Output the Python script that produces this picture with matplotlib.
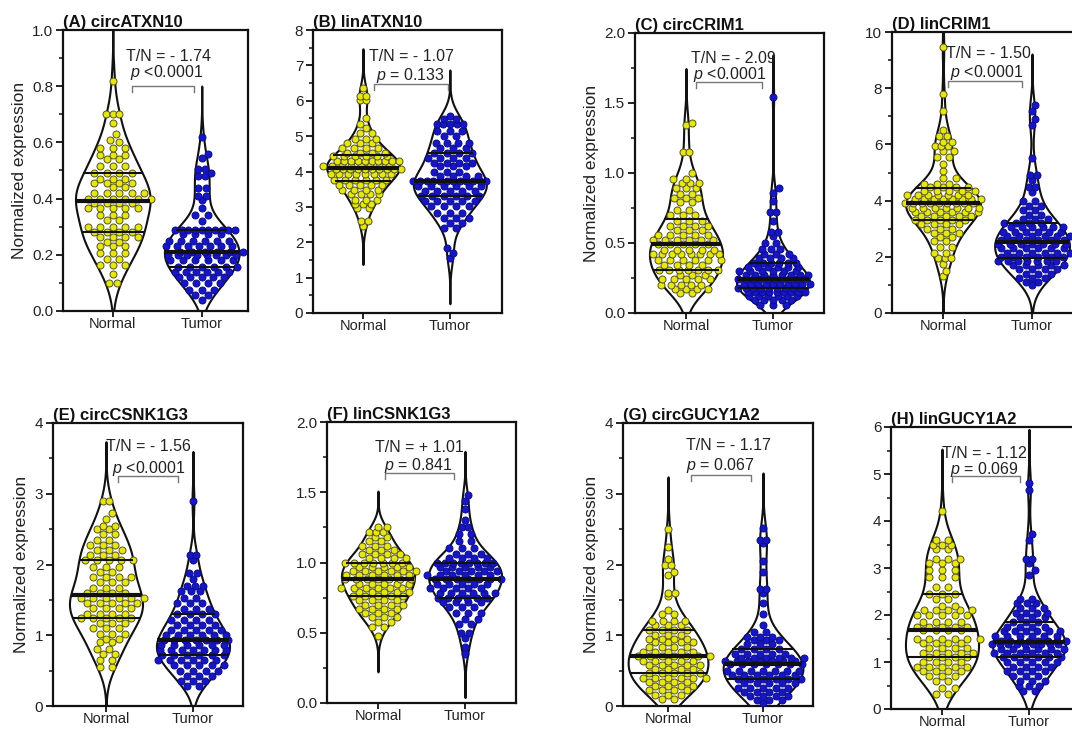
import numpy as np
import matplotlib
matplotlib.use("Agg")
import matplotlib.pyplot as plt
from matplotlib.ticker import MultipleLocator

plt.rcParams['font.family'] = ['Liberation Sans', 'DejaVu Sans']
plt.rcParams['mathtext.fontset'] = 'custom'
plt.rcParams['mathtext.it'] = 'Liberation Sans:italic'
plt.rcParams['mathtext.rm'] = 'Liberation Sans'

# ---------------- data (values read from the dot rows, with counts) ----------------
groups = ["Normal", "Tumor"]
titles = ["(A) circATXN10", "(B) linATXN10", "(C) circCRIM1", "(D) linCRIM1",
          "(E) circCSNK1G3", "(F) linCSNK1G3", "(G) circGUCY1A2", "(H) linGUCY1A2"]
fold_labels = ["T/N = - 1.74", "T/N = - 1.07", "T/N = - 2.09", "T/N = - 1.50",
               "T/N = - 1.56", "T/N = + 1.01", "T/N = - 1.17", "T/N = - 1.12"]
p_labels = [r"$p$ <0.0001", r"$p$ = 0.133", r"$p$ <0.0001", r"$p$ <0.0001",
            r"$p$ <0.0001", r"$p$ = 0.841", r"$p$ = 0.067", r"$p$ = 0.069"]

a_normal_vals = [0.82, 0.70, 0.67, 0.63, 0.61, 0.60, 0.58, 0.555, 0.54, 0.515, 0.49, 0.47, 0.455, 0.44, 0.42,
                 0.40, 0.385, 0.365, 0.34, 0.325, 0.30, 0.28, 0.265, 0.245, 0.23, 0.205, 0.185, 0.165, 0.13, 0.10]
a_normal_counts = [1, 3, 1, 1, 1, 1, 3, 3, 2, 3, 4, 3, 4, 2, 5, 6, 4, 5, 3, 2, 5, 4, 4, 2, 3, 3, 2, 3, 1, 2]
a_tumor_vals = [0.62, 0.56, 0.545, 0.505, 0.49, 0.48, 0.437, 0.41, 0.395, 0.365, 0.34, 0.32, 0.29, 0.275, 0.25,
                0.23, 0.21, 0.20, 0.18, 0.157, 0.14, 0.12, 0.098, 0.074, 0.056, 0.04]
a_tumor_counts = [1, 1, 1, 2, 1, 2, 2, 2, 1, 1, 2, 1, 10, 4, 6, 7, 6, 8, 6, 6, 6, 5, 4, 3, 2, 1]

b_normal_vals = [6.37, 6.13, 6.02, 5.5, 5.35, 5.24, 5.1, 4.92, 4.8, 4.67, 4.53, 4.43, 4.3, 4.15, 4.06, 3.92,
                 3.77, 3.63, 3.49, 3.35, 3.2, 3.07, 2.97, 2.6, 2.47]
b_normal_counts = [1, 2, 2, 1, 1, 1, 2, 3, 3, 4, 4, 6, 10, 8, 10, 8, 6, 5, 4, 4, 3, 3, 2, 2, 1]
b_tumor_vals = [5.57, 5.47, 5.33, 5.14, 5.0, 4.81, 4.67, 4.53, 4.39, 4.25, 4.15, 4.0, 3.87, 3.73, 3.58, 3.44,
                3.3, 3.16, 3.02, 2.83, 2.69, 2.55, 2.4, 1.84, 1.7, 1.56]
b_tumor_counts = [1, 2, 5, 3, 2, 4, 3, 4, 4, 4, 3, 3, 4, 12, 6, 5, 6, 5, 4, 3, 3, 2, 2, 1, 1, 1]

c_normal_vals = [1.36, 1.34, 1.15, 1.0, 0.96, 0.93, 0.89, 0.85, 0.82, 0.79, 0.735, 0.70, 0.66, 0.62, 0.59,
                 0.56, 0.52, 0.49, 0.45, 0.42, 0.38, 0.34, 0.31, 0.27, 0.24, 0.20, 0.17, 0.14]
c_normal_counts = [1, 1, 2, 1, 2, 3, 3, 2, 3, 2, 2, 3, 3, 4, 3, 5, 6, 5, 5, 8, 6, 4, 7, 3, 5, 5, 4, 2]
c_tumor_vals = [1.54, 0.89, 0.86, 0.80, 0.72, 0.66, 0.58, 0.55, 0.50, 0.46, 0.42, 0.39, 0.36, 0.33, 0.30,
                0.27, 0.24, 0.21, 0.18, 0.15, 0.12, 0.09, 0.06]
c_tumor_counts = [1, 1, 1, 1, 2, 1, 2, 1, 2, 3, 3, 4, 6, 6, 6, 8, 10, 10, 9, 9, 6, 5, 3]

d_normal_vals = [9.45, 7.8, 7.2, 6.5, 6.3, 6.1, 5.95, 5.75, 5.55, 5.3, 5.05, 4.8, 4.6, 4.5, 4.35, 4.2, 4.05,
                 3.9, 3.75, 3.6, 3.45, 3.3, 3.15, 3.0, 2.85, 2.7, 2.55, 2.35, 2.15, 1.95, 1.75, 1.5, 1.3]
d_normal_counts = [1, 1, 1, 1, 2, 2, 3, 2, 2, 1, 1, 2, 3, 4, 5, 7, 8, 9, 7, 6, 5, 5, 4, 3, 3, 2, 2, 2, 2, 3,
                   1, 1, 1]
d_tumor_vals = [7.4, 7.2, 6.9, 6.7, 5.5, 4.9, 4.75, 4.5, 4.3, 4.0, 3.8, 3.65, 3.5, 3.35, 3.2, 3.05, 2.9,
                2.75, 2.6, 2.45, 2.3, 2.15, 2.0, 1.85, 1.7, 1.55, 1.4, 1.25, 1.1, 1.0]
d_tumor_counts = [1, 1, 1, 1, 1, 2, 1, 2, 1, 2, 2, 2, 2, 3, 4, 6, 6, 6, 6, 7, 6, 6, 6, 7, 5, 4, 3, 3, 2, 1]

e_normal_vals = [2.9, 2.73, 2.65, 2.55, 2.5, 2.43, 2.35, 2.28, 2.2, 2.13, 2.06, 1.97, 1.9, 1.83, 1.75, 1.67,
                 1.6, 1.53, 1.45, 1.38, 1.3, 1.25, 1.18, 1.1, 1.02, 0.95, 0.9, 0.8, 0.74, 0.65, 0.55]
e_normal_counts = [2, 1, 1, 2, 2, 2, 2, 3, 3, 3, 5, 3, 2, 4, 3, 3, 4, 6, 5, 4, 4, 5, 3, 3, 3, 2, 2, 2, 2, 2, 2]
e_tumor_vals = [2.9, 2.13, 2.07, 1.88, 1.8, 1.7, 1.62, 1.53, 1.45, 1.37, 1.3, 1.22, 1.15, 1.08, 1.0, 0.93,
                0.86, 0.79, 0.72, 0.65, 0.58, 0.5, 0.42, 0.35, 0.28]
e_tumor_counts = [1, 2, 1, 2, 1, 3, 3, 2, 3, 3, 4, 4, 4, 5, 6, 7, 6, 7, 6, 6, 5, 4, 3, 3, 2]

f_normal_vals = [1.25, 1.22, 1.18, 1.15, 1.12, 1.09, 1.06, 1.03, 1.0, 0.97, 0.94, 0.91, 0.88, 0.85, 0.82,
                 0.79, 0.76, 0.73, 0.7, 0.67, 0.64, 0.61, 0.58, 0.54, 0.48]
f_normal_counts = [2, 3, 2, 2, 3, 3, 4, 4, 7, 5, 6, 6, 7, 5, 6, 5, 5, 4, 4, 4, 3, 3, 2, 2, 1]
f_tumor_vals = [1.48, 1.44, 1.38, 1.3, 1.25, 1.2, 1.15, 1.1, 1.06, 1.03, 1.0, 0.97, 0.94, 0.91, 0.88, 0.85,
                0.82, 0.78, 0.75, 0.72, 0.68, 0.64, 0.6, 0.56, 0.5, 0.46, 0.4, 0.35]
f_tumor_counts = [1, 1, 1, 1, 2, 2, 2, 3, 3, 4, 8, 5, 5, 6, 7, 5, 5, 6, 6, 4, 3, 3, 2, 2, 2, 1, 1, 1]

g_normal_vals = [2.5, 2.25, 2.08, 2.0, 1.9, 1.85, 1.6, 1.55, 1.35, 1.3, 1.2, 1.14, 1.07, 1.0, 0.95, 0.9,
                 0.83, 0.77, 0.7, 0.64, 0.58, 0.52, 0.46, 0.4, 0.34, 0.28, 0.22, 0.16, 0.1]
g_normal_counts = [1, 1, 1, 2, 1, 1, 2, 1, 1, 2, 4, 3, 4, 3, 4, 4, 4, 5, 7, 5, 5, 4, 5, 6, 4, 4, 4, 3, 2]
g_tumor_vals = [2.52, 2.35, 2.3, 2.05, 1.9, 1.65, 1.6, 1.45, 1.3, 1.15, 1.05, 0.98, 0.93, 0.87, 0.8, 0.74,
                0.68, 0.63, 0.59, 0.5, 0.44, 0.38, 0.32, 0.26, 0.2, 0.14, 0.08, 0.04]
g_tumor_counts = [1, 2, 1, 1, 1, 2, 1, 1, 1, 1, 2, 3, 3, 3, 4, 5, 6, 7, 7, 7, 6, 6, 5, 5, 4, 4, 3, 1]

h_normal_vals = [4.22, 3.6, 3.5, 3.4, 3.2, 3.1, 2.95, 2.8, 2.6, 2.45, 2.35, 2.2, 2.1, 2.0, 1.85, 1.75, 1.68,
                 1.5, 1.4, 1.3, 1.2, 1.1, 1.0, 0.9, 0.8, 0.7, 0.6, 0.45, 0.32]
h_normal_counts = [1, 2, 3, 2, 3, 3, 3, 3, 2, 3, 2, 2, 5, 5, 4, 5, 4, 6, 4, 4, 5, 4, 4, 5, 4, 3, 2, 2, 2]
h_tumor_vals = [4.8, 4.65, 3.72, 3.6, 3.2, 3.1, 2.95, 2.85, 2.35, 2.25, 2.15, 2.05, 1.95, 1.85, 1.75, 1.65,
                1.55, 1.45, 1.38, 1.28, 1.2, 1.1, 1.0, 0.9, 0.8, 0.7, 0.6, 0.5, 0.38]
h_tumor_counts = [1, 1, 1, 1, 2, 1, 1, 1, 2, 3, 3, 4, 3, 3, 4, 6, 6, 8, 9, 6, 6, 6, 5, 4, 4, 3, 3, 3, 2]

panel_data = [
    ((a_normal_vals, a_normal_counts), (a_tumor_vals, a_tumor_counts)),
    ((b_normal_vals, b_normal_counts), (b_tumor_vals, b_tumor_counts)),
    ((c_normal_vals, c_normal_counts), (c_tumor_vals, c_tumor_counts)),
    ((d_normal_vals, d_normal_counts), (d_tumor_vals, d_tumor_counts)),
    ((e_normal_vals, e_normal_counts), (e_tumor_vals, e_tumor_counts)),
    ((f_normal_vals, f_normal_counts), (f_tumor_vals, f_tumor_counts)),
    ((g_normal_vals, g_normal_counts), (g_tumor_vals, g_tumor_counts)),
    ((h_normal_vals, h_normal_counts), (h_tumor_vals, h_tumor_counts)),
]

# ---------------- layout / style ----------------
W, H = 1072, 729
# axes boxes in pixels: left, right, top, bottom
boxes = [(63, 248, 30, 311), (313, 502, 30, 313), (635, 824, 33, 313), (892, 1081, 32, 313),
         (53, 243, 423, 706), (327, 516, 422, 703), (623, 813, 423, 706), (891, 1080, 427, 709)]
xlims = [(-0.56, 1.52), (-0.575, 1.6), (-0.586, 1.586), (-0.573, 1.55),
         (-0.609, 1.575), (-0.586, 1.586), (-0.474, 1.526), (-0.586, 1.586)]
ylims = [(0, 1.0), (0, 8), (0, 2.0), (0, 10), (0, 4), (0, 2.0), (0, 4), (0, 6)]
major_steps = [0.2, 1, 0.5, 2, 1, 0.5, 1, 1]
minor_steps = [0.1, 0.5, 0.25, 1, 0.5, 0.25, 0.5, 0.5]
tick_fmt = ["{:.1f}", "{:.0f}", "{:.1f}", "{:.0f}", "{:.0f}", "{:.1f}", "{:.0f}", "{:.0f}"]
show_ylabel = [True, False, True, False, True, False, True, False]
tn_pos = [(0.63, 0.907), (0.56, 7.26), (0.54, 1.82), (0.51, 9.23),
          (0.49, 3.67), (0.48, 1.815), (0.64, 3.68), (0.49, 5.44)]
p_pos = [(0.60, 0.848), (0.55, 6.70), (0.50, 1.70), (0.49, 8.55),
         (0.49, 3.36), (0.47, 1.69), (0.55, 3.40), (0.49, 5.10)]
brackets = [(0.22, 0.91, 0.80), (0.13, 0.98, 6.46), (0.11, 0.87, 1.65), (0.06, 0.89, 8.24),
            (0.14, 0.83, 3.25), (0.08, 0.87, 1.64), (0.24, 0.87, 3.27), (0.12, 0.90, 4.95)]

face_colors = ["#e6e614", "#1616c4"]
edge_colors = ["#55551a", "#0c0c8a"]
HALF_WIDTH = 0.42
DOT_PX = 7.0        # drawn diameter of a dot


def row_layout(row_y, row_n, row_w, d):
    """Prism-like dot rows: spread each row across the violin, interleave neighbours."""
    placed = []
    out = []
    for y, c, w in sorted(zip(row_y, row_n, row_w)):
        avail = max(2 * w - d, 0.0)
        s = 1.8 * d
        if c > 1 and (c - 1) * s > avail:
            s = max(avail / (c - 1), 0.95 * d)
        base = (np.arange(c) - (c - 1) / 2.0) * s
        near = [(px, py) for px, py in placed if abs(py - y) < d]
        best, best_cost = base, None
        for shift in [0, s / 2, -s / 2, s / 4, -s / 4, 3 * s / 4, -3 * s / 4]:
            xs = base + shift
            cost = 0.0
            for x in xs:
                for px, py in near:
                    dist = np.hypot(x - px, y - py)
                    if dist < d:
                        cost += (d - dist)
                if abs(x) > w:
                    cost += 0.5 * (abs(x) - w)
            cost += 0.01 * abs(shift)
            if best_cost is None or cost < best_cost - 1e-9:
                best, best_cost = xs, cost
        for x in best:
            placed.append((x, y))
            out.append((x, y))
    return out


fig = plt.figure(figsize=(W / 100, H / 100), dpi=100)

for k in range(8):
    l, r, t, b = boxes[k]
    ax = fig.add_axes([l / W, 1 - b / H, (r - l) / W, (b - t) / H])
    ax.set_xlim(*xlims[k])
    ax.set_ylim(*ylims[k])
    ax.set_facecolor("white")
    for s in ax.spines.values():
        s.set_linewidth(1.6)
        s.set_color("#111111")

    ax_h_px = (b - t)
    ax_w_px = (r - l)
    px_per_x = ax_w_px / (xlims[k][1] - xlims[k][0])
    px_per_y = ax_h_px / (ylims[k][1] - ylims[k][0])

    for gi, (vals, counts) in enumerate(panel_data[k]):
        data = np.repeat(np.asarray(vals, float), counts)
        n = len(data)
        bw = data.std(ddof=1) * n ** (-0.2)
        grid = np.linspace(data.min() - 3.6 * bw, data.max() + 3.6 * bw, 600)
        dens = np.exp(-0.5 * ((grid[:, None] - data[None, :]) / bw) ** 2).sum(axis=1)
        width = dens / dens.max() * HALF_WIDTH
        ax.fill_betweenx(grid, gi - width, gi + width, facecolor="white",
                         edgecolor="#111111", linewidth=1.5, zorder=1)

        # dot rows
        v = np.asarray(vals, float)
        row_w = np.interp(v, grid, width) * px_per_x
        pts = row_layout(v * px_per_y, counts, row_w, DOT_PX)
        xs = np.array([p[0] for p in pts]) / px_per_x + gi
        ys = np.array([p[1] for p in pts]) / px_per_y
        ax.scatter(xs, ys, s=(DOT_PX * 0.72) ** 2, facecolor=face_colors[gi],
                   edgecolor=edge_colors[gi], linewidth=0.7, zorder=3)

        # quartile lines
        for q, lw in [(25, 1.5), (50, 3.0), (75, 1.5)]:
            qv = np.percentile(data, q)
            w = np.interp(qv, grid, width)
            ax.plot([gi - w, gi + w], [qv, qv], color="#111111", lw=lw, zorder=4,
                    solid_capstyle="butt")

    # annotations
    ax.text(tn_pos[k][0], tn_pos[k][1], fold_labels[k], ha="center", va="center",
            fontsize=11.5, color="#222222", zorder=5)
    ax.text(p_pos[k][0], p_pos[k][1], p_labels[k], ha="center", va="center",
            fontsize=11.5, color="#222222", zorder=5)
    x0, x1, yb = brackets[k]
    tick = 6 / px_per_y
    ax.plot([x0, x0, x1, x1], [yb - tick, yb, yb, yb - tick], color="#777777", lw=1.0, zorder=5)

    # axes styling
    ax.set_xticks([0, 1])
    ax.set_xticklabels(groups, fontsize=10.5)
    ax.yaxis.set_major_locator(MultipleLocator(major_steps[k]))
    ax.yaxis.set_minor_locator(MultipleLocator(minor_steps[k]))
    yt = np.arange(ylims[k][0], ylims[k][1] + 1e-9, major_steps[k])
    ax.set_yticks(yt)
    ax.set_yticklabels([tick_fmt[k].format(v) for v in yt], fontsize=11)
    ax.tick_params(axis="y", which="major", direction="out", length=5, width=1.3,
                   color="#111111", labelcolor="#222222", pad=2)
    ax.tick_params(axis="x", which="major", direction="out", length=4, width=1.3,
                   color="#111111", labelcolor="#222222", pad=0.5)
    ax.tick_params(axis="y", which="minor", direction="out", length=3, width=1.1, color="#111111")
    if show_ylabel[k]:
        ax.set_ylabel("Normalized expression", fontsize=12.5, color="#222222", labelpad=4)
    ax.set_title(titles[k], loc="left", fontsize=12, fontweight="bold", pad=1.5, color="#111111")

fig.savefig("out.png", dpi=100, facecolor="white")
